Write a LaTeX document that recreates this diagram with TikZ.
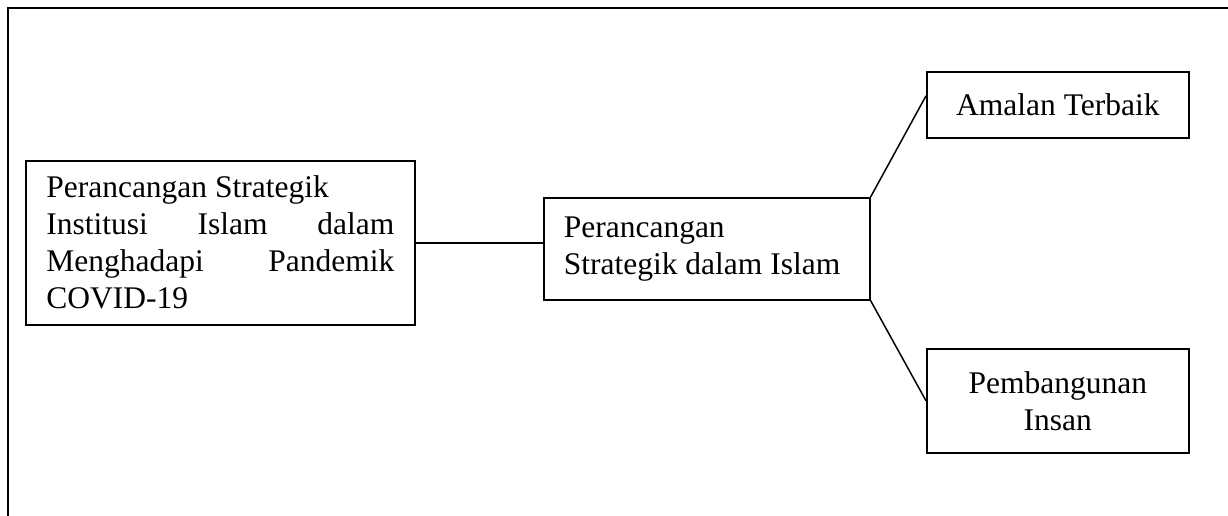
\documentclass[tikz,border=0pt]{standalone}
\usepackage{fontspec}
\setmainfont{Liberation Serif}
\usetikzlibrary{calc}
\tikzset{
  box/.style={draw, line width=1.6pt, inner sep=0pt, anchor=north west,
    font=\fontsize{31.5}{37}\selectfont},
  conn/.style={line width=1.5pt},
  frame/.style={line width=2.2pt}
}
\begin{document}
\begin{tikzpicture}[x=1pt,y=-1pt]
\useasboundingbox (0,0) rectangle (1228,516);
\coordinate (fa) at (8,516);
\coordinate (fb) at (8,8);
\coordinate (fc) at (1228,8);
\draw[frame] (fa) -- (fb) -- (fc);
\node[box, minimum width=389pt, minimum height=164pt] (b1) at (25,160)
  {\parbox{348pt}{\fontsize{31.5}{37}\selectfont Perancangan Strategik\\ Institusi\hfill Islam\hfill dalam\\ Menghadapi\hfill Pandemik\\ COVID-19}};
\node[box, minimum width=326pt, minimum height=102pt] (b2) at (543,197)
  {\parbox{286pt}{\fontsize{31.5}{37}\selectfont\raggedright Perancangan\\ Strategik dalam Islam}};
\node[box, minimum width=262pt, minimum height=66pt] (b3) at (926,71)
  {Amalan Terbaik};
\node[box, minimum width=262pt, minimum height=104pt, align=center] (b4) at (926,348)
  {Pembangunan\\ Insan};
\draw[conn] (b1.east) -- (b1.east -| b2.west);
\draw[conn] (b2.north east) -- ([yshift=9pt]b3.west);
\draw[conn] (b2.south east) -- (b4.west);
\end{tikzpicture}
\end{document}
